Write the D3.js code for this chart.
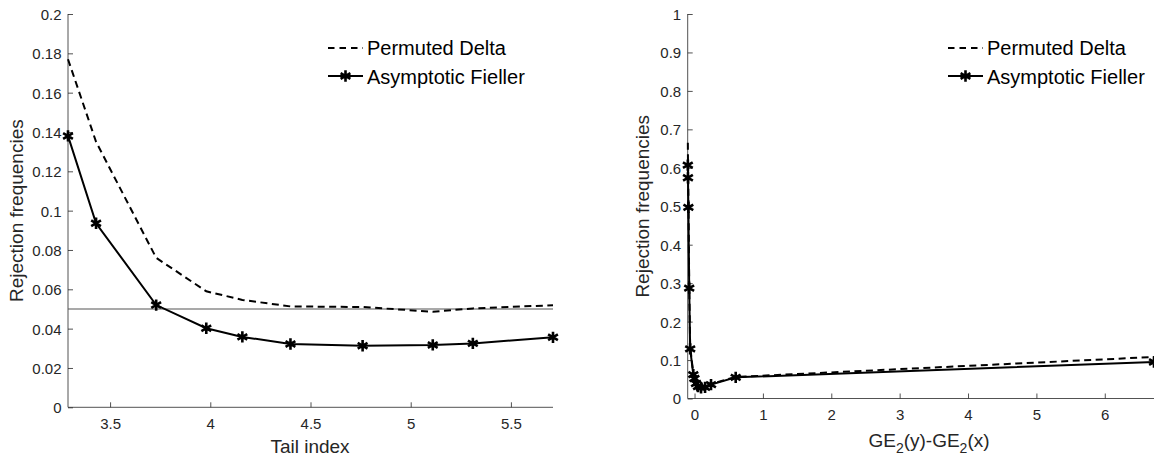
<!DOCTYPE html>
<html>
<head>
<meta charset="utf-8">
<script src="https://cdn.jsdelivr.net/npm/d3@7"></script>
<style>
  body { margin: 0; background: #fff; }
  svg text { font-family: "Liberation Sans", Arial, sans-serif; }
</style>
</head>
<body>
<svg id="chart" width="1154" height="459"></svg>
<script>
'use strict';

// left panel: rejection frequencies against tail index
const tailIndex   = [3.29, 3.43, 3.73, 3.98, 4.16, 4.40, 4.76, 5.11, 5.31, 5.71]
const deltaLeft   = [0.177, 0.135, 0.076, 0.059, 0.0546, 0.0513, 0.0510, 0.0486, 0.0503, 0.0519]
const fiellerLeft = [0.138, 0.0936, 0.052, 0.0402, 0.0358, 0.0322, 0.0313, 0.0317, 0.0325, 0.0356]
const nominalLevel = 0.05
const leftXTicks  = [3.5, 4, 4.5, 5, 5.5]
const leftYTicks  = [0, 0.02, 0.04, 0.06, 0.08, 0.1, 0.12, 0.14, 0.16, 0.18, 0.2]

// right panel: rejection frequencies against GE2(y)-GE2(x)
const geDiff       = [-0.098, -0.096, -0.09, -0.078, -0.064, -0.018, -0.002, 0.022, 0.051, 0.095, 0.154, 0.241, 0.602, 6.72]
const deltaRight   = [0.665, 0.62, 0.53, 0.30, 0.135, 0.064, 0.054, 0.041, 0.033, 0.030, 0.031, 0.038, 0.056, 0.108]
const fiellerRight = [0.607, 0.574, 0.497, 0.287, 0.129, 0.062, 0.052, 0.039, 0.031, 0.028, 0.029, 0.036, 0.055, 0.095]
const rightXTicks  = [0, 1, 2, 3, 4, 5, 6]
const rightYTicks  = [0, 0.1, 0.2, 0.3, 0.4, 0.5, 0.6, 0.7, 0.8, 0.9, 1]

const legendNames = ['Permuted Delta', 'Asymptotic Fieller']

const svg = d3.select('#chart')
const axisColor = '#262626'
const dash = '7,4.5'
const star = d3.symbol(d3.symbolAsterisk, 90)

function drawPanel(p) {
  const x = d3.scaleLinear().domain(p.xDomain).range([p.left, p.right])
  const y = d3.scaleLinear().domain(p.yDomain).range([p.bottom, p.top])
  const g = svg.append('g')

  const xAxis = d3.axisBottom(x).tickValues(p.xTicks).tickSize(-5).tickFormat(d3.format('~g'))
  const yAxis = d3.axisLeft(y).tickValues(p.yTicks).tickSize(-5).tickFormat(d3.format('~g'))

  const gx = g.append('g').attr('transform', `translate(0,${p.bottom})`).call(xAxis)
  const gy = g.append('g').attr('transform', `translate(${p.left},0)`).call(yAxis)

  ;[gx, gy].forEach((a) => {
    a.select('.domain').attr('d', null)
    a.selectAll('line').attr('stroke', axisColor).attr('stroke-width', 0.8)
    a.selectAll('text')
      .attr('fill', axisColor)
      .style('font-size', '15px')
  })
  gx.selectAll('text').attr('y', 0).attr('dy', '21.5px')
  gy.selectAll('text').attr('x', -6.5).attr('dy', '0.36em')

  // axis lines only, no box
  g.append('path')
    .attr('d', `M${p.left},${p.top}V${p.bottom}H${p.right}`)
    .attr('fill', 'none')
    .attr('stroke', axisColor)
    .attr('stroke-width', 0.8)

  if (p.refLine !== undefined) {
    g.append('line')
      .attr('x1', p.left).attr('x2', p.right)
      .attr('y1', y(p.refLine)).attr('y2', y(p.refLine))
      .attr('stroke', '#555')
      .attr('stroke-width', 1.1)
  }

  const line = d3.line().x((d) => x(d[0])).y((d) => y(d[1]))
  const deltaPts   = p.xs.map((v, i) => [v, p.delta[i]])
  const fiellerPts = p.xs.map((v, i) => [v, p.fieller[i]])

  g.append('path')
    .attr('d', line(deltaPts))
    .attr('fill', 'none')
    .attr('stroke', '#000')
    .attr('stroke-width', 2)
    .attr('stroke-dasharray', dash)

  g.append('path')
    .attr('d', line(fiellerPts))
    .attr('fill', 'none')
    .attr('stroke', '#000')
    .attr('stroke-width', 2)

  g.selectAll('path.star')
    .data(fiellerPts)
    .enter()
    .append('path')
      .attr('class', 'star')
      .attr('d', star)
      .attr('transform', (d) => `translate(${x(d[0])},${y(d[1])})`)
      .attr('fill', 'none')
      .attr('stroke', '#000')
      .attr('stroke-width', 2.6)

  // axis labels
  const xl = g.append('text')
    .attr('x', p.xLabelX).attr('y', p.xLabelY)
    .attr('text-anchor', 'middle')
    .attr('fill', axisColor)
    .style('font-size', '19px')
  p.xLabel(xl)

  g.append('text')
    .attr('transform', `translate(${p.yLabelX},${(p.top + p.bottom) / 2}) rotate(-90)`)
    .attr('text-anchor', 'middle')
    .attr('fill', axisColor)
    .style('font-size', '19px')
    .text('Rejection frequencies')

  // legend
  const lg = g.append('g').attr('transform', `translate(${p.legendX},0)`)
  lg.append('line')
    .attr('x1', 0).attr('x2', 35).attr('y1', 48).attr('y2', 48)
    .attr('stroke', '#000').attr('stroke-width', 2).attr('stroke-dasharray', '6.5,5')
  lg.append('line')
    .attr('x1', 0).attr('x2', 35).attr('y1', 76).attr('y2', 76)
    .attr('stroke', '#000').attr('stroke-width', 2)
  lg.append('path')
    .attr('d', star)
    .attr('transform', 'translate(17.5,76)')
    .attr('fill', 'none').attr('stroke', '#000').attr('stroke-width', 2.6)
  lg.selectAll('text.leg')
    .data(legendNames)
    .enter()
    .append('text')
      .attr('class', 'leg')
      .attr('x', 39)
      .attr('y', (d, i) => 54.5 + i * 29)
      .attr('fill', '#000')
      .style('font-size', '20px')
      .text((d) => d)
}

drawPanel({
  left: 68, right: 553, top: 14, bottom: 407.3,
  xDomain: [3.29, 5.71], yDomain: [0, 0.2],
  xTicks: leftXTicks, yTicks: leftYTicks,
  xs: tailIndex, delta: deltaLeft, fieller: fiellerLeft,
  refLine: nominalLevel,
  xLabelX: 310, xLabelY: 453,
  xLabel: (t) => t.text('Tail index'),
  yLabelX: 23,
  legendX: 328
})

drawPanel({
  left: 687.7, right: 1154, top: 14, bottom: 398.5,
  xDomain: [-0.1, 6.72], yDomain: [0, 1],
  xTicks: rightXTicks, yTicks: rightYTicks,
  xs: geDiff, delta: deltaRight, fieller: fiellerRight,
  xLabelX: 929, xLabelY: 447,
  xLabel: (t) => {
    t.append('tspan').text('GE')
    t.append('tspan').attr('dy', 6).style('font-size', '14px').text('2')
    t.append('tspan').attr('dy', -6).text('(y)-GE')
    t.append('tspan').attr('dy', 6).style('font-size', '14px').text('2')
    t.append('tspan').attr('dy', -6).text('(x)')
  },
  yLabelX: 649,
  legendX: 948
})
</script>
</body>
</html>
